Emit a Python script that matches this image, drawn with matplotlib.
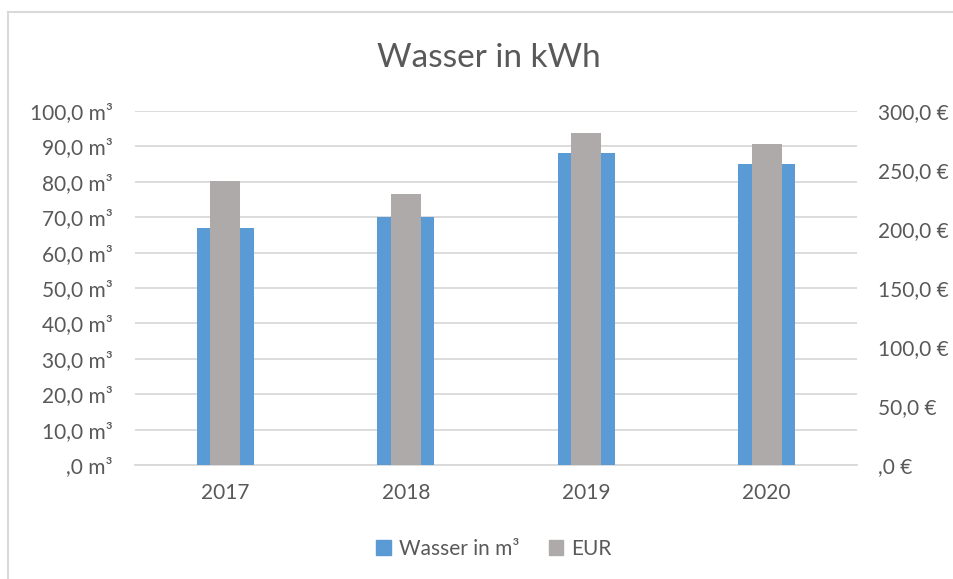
import matplotlib.pyplot as plt
from matplotlib.patches import Rectangle
from matplotlib.lines import Line2D

# data
years = ["2017", "2018", "2019", "2020"]
wasser_m3 = [67.0, 70.0, 88.0, 85.0]
eur = [241.0, 230.0, 281.0, 272.0]

left_ticks = [0, 10, 20, 30, 40, 50, 60, 70, 80, 90, 100]
left_labels = [",0 m³", "10,0 m³", "20,0 m³", "30,0 m³", "40,0 m³", "50,0 m³",
               "60,0 m³", "70,0 m³", "80,0 m³", "90,0 m³", "100,0 m³"]
right_ticks = [0, 50, 100, 150, 200, 250, 300]
right_labels = [",0 €", "50,0 €", "100,0 €", "150,0 €", "200,0 €", "250,0 €", "300,0 €"]

blue = "#5B9BD5"
grey = "#AEAAAA"
text_col = "#595959"
grid_col = "#D9D9D9"

plt.rcParams['font.family'] = ['Lato', 'DejaVu Sans']

fig = plt.figure(figsize=(9.54, 5.79), dpi=100)
W, H = 954, 579

# light frame of the chart area (only left and top are visible in the crop)
fig.add_artist(Line2D([8 / W, 8 / W], [0, 1 - 12 / H], transform=fig.transFigure,
                      color=grid_col, lw=1.5))
fig.add_artist(Line2D([8 / W, 1], [1 - 12 / H, 1 - 12 / H], transform=fig.transFigure,
                      color=grid_col, lw=1.5))

left, right = 135 / W, 857 / W
bottom, top = 1 - 465 / H, 1 - 111 / H
ax = fig.add_axes([left, bottom, right - left, top - bottom])
ax2 = ax.twinx()

x = list(range(len(years)))
ax.bar(x, wasser_m3, width=0.315, color=blue, zorder=3)
ax2.bar(x, eur, width=0.167, color=grey, zorder=3)

ax.set_xlim(-0.5, len(years) - 0.5)
ax.set_ylim(0, 100)
ax2.set_ylim(0, 300)

ax.set_yticks(left_ticks)
ax.set_yticklabels(left_labels)
ax2.set_yticks(right_ticks)
ax2.set_yticklabels(right_labels)
ax.set_xticks(x)
ax.set_xticklabels(years)

ax.grid(axis='y', color=grid_col, lw=1.3, zorder=0)
ax.set_axisbelow(True)

for a in (ax, ax2):
    for s in a.spines.values():
        s.set_visible(False)
ax.spines['bottom'].set_visible(True)
ax.spines['bottom'].set_color(grid_col)
ax.spines['bottom'].set_linewidth(1.3)

ax.tick_params(axis='y', length=0, pad=16, labelsize=15, labelcolor=text_col)
ax.tick_params(axis='x', length=0, pad=13, labelsize=15, labelcolor=text_col)
ax2.tick_params(axis='y', length=0, pad=15, labelsize=15, labelcolor=text_col)

fig.text(489 / W, 1 - 58 / H, "Wasser in kWh", ha='center', va='center',
         fontsize=24, color=text_col)

handles = [Rectangle((0, 0), 1, 1, color=blue), Rectangle((0, 0), 1, 1, color=grey)]
fig.legend(handles, ["Wasser in m³", "EUR"], loc='center', ncol=2,
           bbox_to_anchor=(494 / W, 1 - 549 / H), frameon=False, fontsize=15,
           labelcolor=text_col, handlelength=0.7, handleheight=0.7,
           handletextpad=0.4, columnspacing=1.4)

fig.savefig("out.png", dpi=100)
